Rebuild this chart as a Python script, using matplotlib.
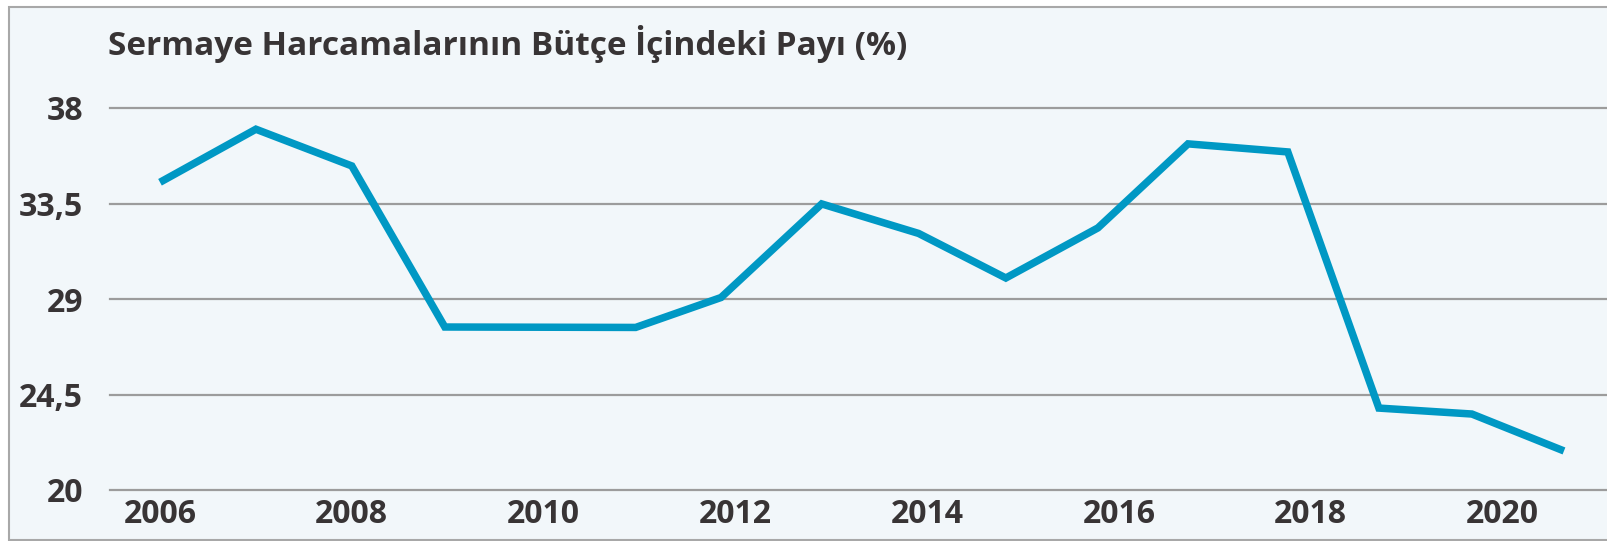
import matplotlib
matplotlib.use("Agg")
from matplotlib import pyplot as plt
from matplotlib.patches import Rectangle

# values (x positions as drawn, in years)
years = [2006.0, 2007.0, 2008.0, 2008.97, 2010.0, 2010.96, 2011.85, 2012.9,
         2013.91, 2014.82, 2015.78, 2016.72, 2017.76, 2018.71, 2019.68, 2020.64]
share = [34.5, 37.0, 35.27, 27.68, 27.67, 27.66, 29.07, 33.48,
         32.09, 29.99, 32.35, 36.31, 35.93, 23.86, 23.58, 21.84]

y_ticks = [20, 24.5, 29, 33.5, 38]
y_labels = ['20', '24,5', '29', '33,5', '38']
x_ticks = [2006, 2008, 2010, 2012, 2014, 2016, 2018, 2020]
x_labels = [str(y) for y in x_ticks]

title = 'Sermaye Harcamalarının Bütçe İçindeki Payı (%)'

W, H = 1608, 541
bg = '#f2f7fa'
txt = '#383435'
blue = '#0098c4'
grid = '#9c9c9c'

plt.rcParams['font.family'] = ['Open Sans', 'DejaVu Sans']

fig = plt.figure(figsize=(W / 100, H / 100), dpi=100, facecolor='white')

# panel background with thin border
fig.patches.append(Rectangle((9 / W, 1 / H), 1 - 9 / W + 0.01, (534 - 1) / H,
                             transform=fig.transFigure, facecolor=bg,
                             edgecolor='#a8a8a8', linewidth=1.5, zorder=-5))

ax = fig.add_axes([110 / W, (H - 490) / H, 1 - 110 / W, (490 - 108) / H])
ax.set_facecolor('none')

ax.plot(years, share, color=blue, lw=5.4, solid_joinstyle='miter',
        solid_capstyle='butt', zorder=3)

ax.set_ylim(20, 38)
ax.set_xlim(2006 - 50 / 95.9, 2006 + (W - 110 - 50) / 95.9)
ax.set_yticks(y_ticks)
ax.set_yticklabels(y_labels)
ax.set_xticks(x_ticks)
ax.set_xticklabels(x_labels)

for v in y_ticks:
    ax.axhline(v, color=grid, lw=1.6, zorder=1, clip_on=False)

for s in ax.spines.values():
    s.set_visible(False)
ax.tick_params(axis='both', length=0, labelcolor=txt, labelsize=23)
ax.tick_params(axis='y', pad=19.5)
ax.tick_params(axis='x', pad=6)
for lab in ax.get_xticklabels() + ax.get_yticklabels():
    lab.set_fontweight('bold')

fig.text(108 / W, (H - 55) / H, title, ha='left', va='baseline',
         fontsize=24, fontweight='bold', color=txt)

fig.savefig('out.png', dpi=100, facecolor='white')
